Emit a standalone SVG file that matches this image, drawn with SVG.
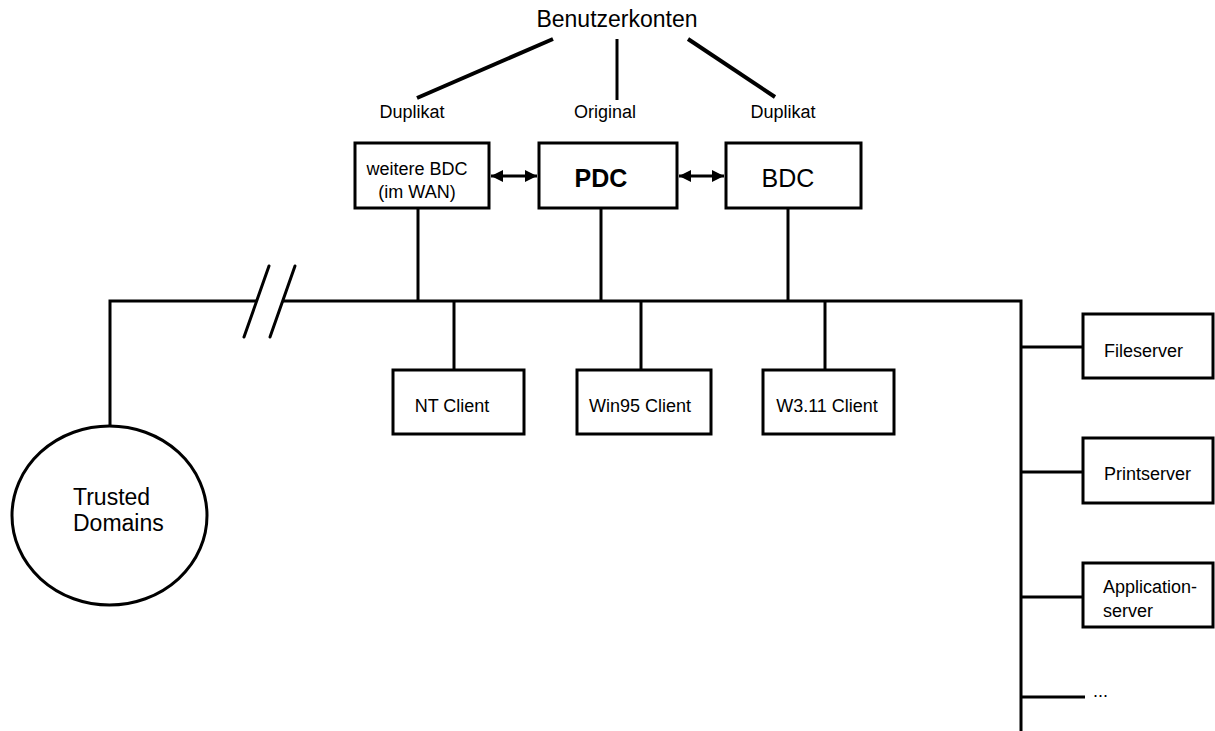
<svg xmlns="http://www.w3.org/2000/svg" width="1215" height="731" viewBox="0 0 1215 731">
<style>
  text { font-family: "Liberation Sans", Arial, sans-serif; fill: #000; }
  .s { font-size: 18px; }
  .l { font-size: 23px; }
  .box { fill: #fff; stroke: #000; stroke-width: 3; }
  .ln { stroke: #000; stroke-width: 3; fill: none; }
  .thick { stroke: #000; stroke-width: 4; fill: none; stroke-linecap: butt; }
  .m { text-anchor: middle; }
</style>
<defs>
  <marker id="ah" viewBox="0 0 12 12" refX="12" refY="6" markerWidth="12" markerHeight="12" markerUnits="userSpaceOnUse" orient="auto-start-reverse">
    <path d="M0,0 L12,6 L0,12 Z" fill="#000"/>
  </marker>
</defs>

<g id="connectors">
  <line class="thick" x1="553" y1="39" x2="417" y2="98"/>
  <line class="ln" x1="617" y1="39" x2="617" y2="100"/>
  <line class="thick" x1="688" y1="39" x2="775" y2="97"/>
  <line class="ln" x1="491" y1="176" x2="537" y2="176" marker-start="url(#ah)" marker-end="url(#ah)"/>
  <line class="ln" x1="679" y1="176" x2="724" y2="176" marker-start="url(#ah)" marker-end="url(#ah)"/>
  <line class="ln" x1="418" y1="208" x2="418" y2="301"/>
  <line class="ln" x1="601" y1="208" x2="601" y2="301"/>
  <line class="ln" x1="788" y1="208" x2="788" y2="301"/>
  <polyline class="ln" points="110,426 110,301 257,301"/>
  <polyline class="ln" points="283,301 1021,301 1021,731"/>
  <line class="ln" x1="269" y1="266" x2="244" y2="337" stroke-linecap="round"/>
  <line class="ln" x1="295" y1="266" x2="270" y2="337" stroke-linecap="round"/>
  <line class="ln" x1="454" y1="301" x2="454" y2="370"/>
  <line class="ln" x1="641" y1="301" x2="641" y2="370"/>
  <line class="ln" x1="825" y1="301" x2="825" y2="370"/>
  <line class="ln" x1="1021" y1="347" x2="1083" y2="347"/>
  <line class="ln" x1="1021" y1="472" x2="1083" y2="472"/>
  <line class="ln" x1="1021" y1="597" x2="1083" y2="597"/>
  <line class="ln" x1="1021" y1="697" x2="1085" y2="697"/>
</g>

<g id="labels">
  <text class="l m" x="617" y="27">Benutzerkonten</text>
  <text class="s m" x="412" y="118">Duplikat</text>
  <text class="s m" x="605" y="118">Original</text>
  <text class="s m" x="783" y="118">Duplikat</text>
  <text class="s" x="1093" y="697">...</text>
</g>

<g id="weitere-bdc">
  <rect class="box" x="355" y="143" width="134" height="65"/>
  <text class="s m" x="417" y="175">weitere BDC</text>
  <text class="s m" x="417" y="198">(im WAN)</text>
</g>
<g id="pdc">
  <rect class="box" x="539" y="143" width="138" height="65"/>
  <text class="m" x="601" y="187" font-size="25" font-weight="bold">PDC</text>
</g>
<g id="bdc">
  <rect class="box" x="726" y="143" width="135" height="65"/>
  <text class="m" x="788" y="187" font-size="25">BDC</text>
</g>
<g id="nt-client">
  <rect class="box" x="393" y="370" width="131" height="64"/>
  <text class="s m" x="452" y="412">NT Client</text>
</g>
<g id="win95-client">
  <rect class="box" x="577" y="370" width="134" height="64"/>
  <text class="s m" x="640" y="412">Win95 Client</text>
</g>
<g id="w311-client">
  <rect class="box" x="763" y="370" width="131" height="64"/>
  <text class="s m" x="827" y="412">W3.11 Client</text>
</g>
<g id="trusted-domains">
  <ellipse cx="109.5" cy="515.5" rx="97.5" ry="89.5" fill="#fff" stroke="#000" stroke-width="3"/>
  <text class="l" x="73" y="505">Trusted</text>
  <text class="l" x="73" y="531">Domains</text>
</g>
<g id="fileserver">
  <rect class="box" x="1083" y="314" width="130" height="64"/>
  <text class="s" x="1104" y="357">Fileserver</text>
</g>
<g id="printserver">
  <rect class="box" x="1083" y="438" width="130" height="65"/>
  <text class="s" x="1104" y="480">Printserver</text>
</g>
<g id="applicationserver">
  <rect class="box" x="1083" y="563" width="130" height="64"/>
  <text class="s" x="1103" y="593">Application-</text>
  <text class="s" x="1103" y="617">server</text>
</g>
</svg>
